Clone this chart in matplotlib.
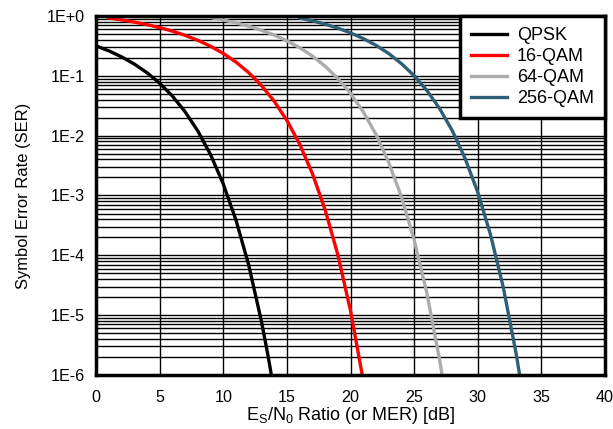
import matplotlib
matplotlib.use("Agg")
import matplotlib.pyplot as plt
from matplotlib.ticker import LogLocator, FixedLocator

plt.rcParams['font.family'] = ['Liberation Sans', 'DejaVu Sans']
plt.rcParams['mathtext.fontset'] = 'custom'
plt.rcParams['mathtext.rm'] = 'Liberation Sans'

# symbol error rate curves, Es/N0 in dB
qpsk_x = [0, 1, 2, 3, 4, 5, 6, 7, 8, 9, 10, 11, 12, 13, 13.5, 14]
qpsk_y = [0.317, 0.262, 0.208, 0.158, 0.113, 0.0754, 0.0460, 0.0251, 0.0120,
          0.00484, 1.56e-3, 3.88e-4, 6.87e-5, 7.9e-6, 2.2e-6, 5.4e-7]

qam16_x = [1, 2, 3, 4, 5, 6, 7, 8, 9, 10, 11, 12, 13, 14, 15, 16, 17, 18, 19, 20, 21]
qam16_y = [0.924, 0.861, 0.792, 0.718, 0.640, 0.559, 0.475, 0.393, 0.312, 0.237,
           0.170, 0.113, 0.069, 0.0377, 0.0180, 0.00726, 2.34e-3, 5.82e-4,
           1.03e-4, 1.19e-5, 8.1e-7]

qam64_x = [9.2, 10, 11, 12, 13, 14, 15, 16, 17, 18, 19, 20, 21, 22, 23, 24, 25,
           26, 27, 27.5]
qam64_y = [0.926, 0.858, 0.769, 0.674, 0.578, 0.480, 0.385, 0.296, 0.215, 0.145,
           0.0904, 0.0508, 0.0251, 0.0105, 3.59e-3, 9.49e-4, 1.82e-4, 2.34e-5,
           1.80e-6, 3.98e-7]

qam256_x = [16, 17, 18, 19, 20, 21, 22, 23, 24, 25, 26, 27, 28, 29, 30, 31, 32,
            33, 33.5]
qam256_y = [0.926, 0.831, 0.731, 0.627, 0.522, 0.420, 0.324, 0.236, 0.160, 0.1005,
            0.0570, 0.0284, 0.0121, 4.19e-3, 1.13e-3, 2.22e-4, 2.95e-5, 2.37e-6,
            5.37e-7]

labels = ['QPSK', '16-QAM', '64-QAM', '256-QAM']
colors = ['#000000', '#ff0000', '#acacac', '#2e5f77']

x_ticks = [0, 5, 10, 15, 20, 25, 30, 35, 40]
y_ticks = [1e-6, 1e-5, 1e-4, 1e-3, 1e-2, 1e-1, 1e0]
y_tick_labels = ['1E-6', '1E-5', '1E-4', '1E-3', '1E-2', '1E-1', '1E+0']

fig = plt.figure(figsize=(6.13, 4.29), dpi=100)
ax = fig.add_axes([0.1566, 0.1259, 0.8304, 0.8368])

series = [(qpsk_x, qpsk_y), (qam16_x, qam16_y), (qam64_x, qam64_y),
          (qam256_x, qam256_y)]
for (xs, ys), lab, col in zip(series, labels, colors):
    ax.plot(xs, ys, color=col, lw=2.4, label=lab, zorder=3)

ax.set_yscale('log')
ax.set_xlim(0, 40)
ax.set_ylim(1e-6, 1)

ax.xaxis.set_major_locator(FixedLocator(x_ticks))
ax.set_yticks(y_ticks)
ax.set_yticklabels(y_tick_labels)
ax.yaxis.set_minor_locator(LogLocator(base=10, subs=range(2, 10), numticks=20))
ax.yaxis.set_minor_formatter(plt.NullFormatter())

ax.grid(True, which='major', axis='both', color='black', lw=1.0)
ax.grid(True, which='minor', axis='y', color='black', lw=1.0)
ax.tick_params(which='both', length=0, labelsize=11.6)
ax.tick_params(axis='x', pad=11)
ax.tick_params(axis='y', pad=8)

for sp in ax.spines.values():
    sp.set_linewidth(2.5)
    sp.set_zorder(4)

ax.set_xlabel(r'E$_\mathregular{S}$/N$_\mathregular{0}$ Ratio (or MER) [dB]',
              fontsize=13, labelpad=0)
ax.set_ylabel('Symbol Error Rate (SER)', fontsize=11.9, labelpad=11)

leg = ax.legend(loc='upper right', borderaxespad=0, fontsize=13,
                fancybox=False, framealpha=1, edgecolor='black',
                handlelength=2.0, handletextpad=0.55, labelspacing=0.22,
                borderpad=0.62)
leg.get_frame().set_linewidth(2.5)
leg.set_zorder(5)

fig.savefig('out.png', dpi=100)
